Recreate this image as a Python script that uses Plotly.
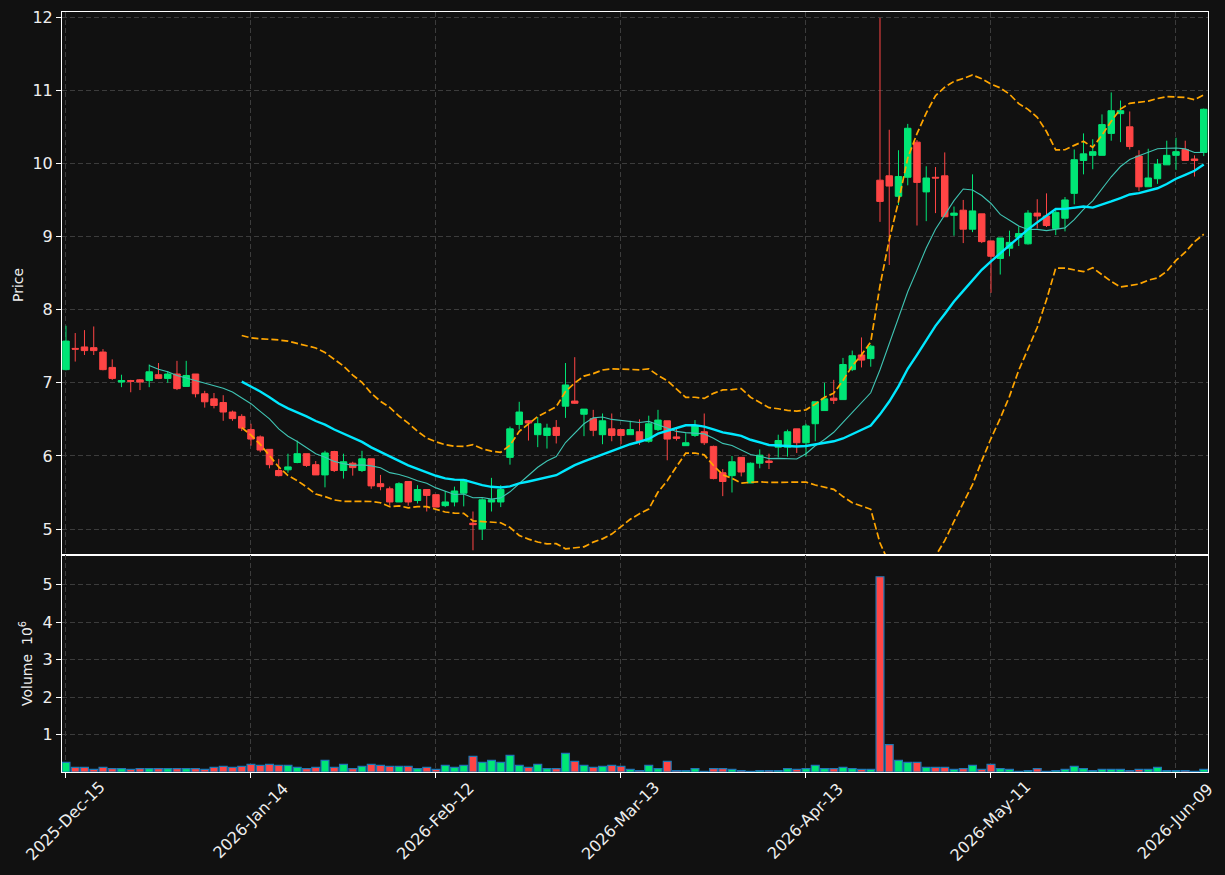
import pandas as pd
import plotly.graph_objects as go

# ---------------- data ----------------
opens = [7.18, 7.47, 7.49, 7.48, 7.42, 7.21, 7.01, 7.03, 7.04, 7.03,
         7.11, 7.06, 7.12, 6.95, 7.12, 6.85, 6.78, 6.73, 6.60, 6.54,
         6.36, 6.26, 6.09, 5.80, 5.81, 5.91, 6.03, 5.88, 5.74, 6.06,
         5.80, 5.90, 5.80, 5.96, 5.62, 5.55, 5.37, 5.65, 5.39, 5.54,
         5.47, 5.32, 5.37, 5.49, 5.08, 5.00, 5.37, 5.37, 5.98, 6.43,
         6.48, 6.29, 6.28, 6.39, 6.68, 6.75, 6.57, 6.51, 6.29, 6.37,
         6.36, 6.29, 6.33, 6.20, 6.36, 6.48, 6.26, 6.14, 6.28, 6.33,
         6.13, 5.77, 5.73, 5.98, 5.63, 5.90, 5.93, 6.12, 6.12, 6.37,
         6.18, 6.44, 6.62, 6.79, 6.77, 7.18, 7.38, 7.33, 9.77, 9.83,
         9.55, 9.81, 10.29, 9.61, 9.81, 9.83, 9.29, 9.36, 9.10, 9.31,
         8.94, 8.70, 8.84, 8.99, 8.90, 9.32, 9.28, 9.11, 9.25, 9.59,
         10.04, 10.11, 10.11, 10.41, 10.68, 10.50, 10.10, 9.68, 9.79, 9.98,
         10.11, 10.19, 10.06, 10.15]
highs = [7.78, 7.68, 7.72, 7.77, 7.46, 7.32, 7.11, 7.04, 7.05, 7.25,
         7.27, 7.16, 7.30, 7.30, 7.12, 6.89, 6.86, 6.83, 6.62, 6.57,
         6.44, 6.28, 6.09, 5.96, 6.03, 6.21, 6.03, 5.93, 6.07, 6.07,
         6.03, 5.92, 6.07, 5.96, 5.74, 5.58, 5.64, 5.65, 5.60, 5.54,
         5.47, 5.52, 5.58, 5.67, 5.24, 5.42, 5.70, 5.60, 6.40, 6.74,
         6.49, 6.53, 6.44, 6.49, 7.27, 7.35, 6.64, 6.63, 6.58, 6.58,
         6.36, 6.48, 6.50, 6.55, 6.63, 6.48, 6.39, 6.31, 6.49, 6.58,
         6.14, 5.82, 6.00, 5.98, 5.91, 6.09, 6.03, 6.29, 6.36, 6.37,
         6.44, 6.74, 7.00, 7.04, 7.34, 7.44, 7.62, 7.52, 11.99, 10.46,
         10.18, 10.54, 10.32, 9.96, 9.95, 10.15, 9.41, 9.50, 9.85, 9.31,
         8.94, 8.98, 9.08, 9.14, 9.36, 9.51, 9.59, 9.36, 9.54, 10.19,
         10.41, 10.33, 10.67, 10.97, 10.86, 10.71, 10.18, 10.20, 10.06, 10.31,
         10.35, 10.31, 10.11, 10.75]
lows = [7.17, 7.29, 7.38, 7.38, 7.17, 7.04, 6.94, 6.87, 6.90, 6.94,
        7.05, 7.00, 6.90, 6.95, 6.80, 6.66, 6.65, 6.48, 6.48, 6.34,
        6.14, 6.05, 5.83, 5.72, 5.77, 5.90, 5.85, 5.74, 5.57, 5.78,
        5.69, 5.73, 5.78, 5.55, 5.53, 5.32, 5.37, 5.32, 5.35, 5.24,
        5.30, 5.30, 5.31, 5.31, 4.71, 4.85, 5.24, 5.30, 5.88, 6.36,
        6.21, 6.12, 6.10, 6.17, 6.52, 6.71, 6.27, 6.27, 6.16, 6.20,
        6.16, 6.29, 6.15, 6.18, 6.34, 5.94, 6.21, 6.14, 6.26, 6.15,
        5.68, 5.45, 5.50, 5.72, 5.63, 5.83, 5.82, 5.98, 5.99, 6.04,
        5.99, 6.20, 6.62, 6.71, 6.77, 7.16, 7.21, 7.22, 9.20, 8.61,
        9.43, 9.70, 9.15, 9.21, 9.32, 9.27, 9.01, 8.91, 9.06, 8.91,
        8.23, 8.48, 8.73, 8.87, 8.89, 9.11, 9.13, 9.02, 9.07, 9.44,
        9.85, 9.92, 10.11, 10.31, 10.29, 10.19, 9.62, 9.68, 9.72, 9.98,
        9.91, 10.04, 9.82, 10.10]
closes = [7.57, 7.46, 7.44, 7.44, 7.18, 7.06, 7.03, 7.02, 7.01, 7.15,
          7.06, 7.12, 6.92, 7.10, 6.85, 6.74, 6.69, 6.60, 6.51, 6.38,
          6.23, 6.08, 5.88, 5.73, 5.85, 6.03, 5.87, 5.74, 6.04, 5.80,
          5.92, 5.84, 5.96, 5.59, 5.58, 5.37, 5.62, 5.37, 5.54, 5.46,
          5.30, 5.37, 5.52, 5.67, 5.06, 5.40, 5.40, 5.54, 6.37, 6.60,
          6.45, 6.44, 6.38, 6.28, 6.97, 6.72, 6.64, 6.35, 6.48, 6.28,
          6.28, 6.36, 6.20, 6.44, 6.49, 6.23, 6.24, 6.18, 6.41, 6.18,
          5.69, 5.65, 5.92, 5.78, 5.90, 6.01, 5.91, 6.21, 6.33, 6.18,
          6.41, 6.74, 6.78, 6.76, 7.25, 7.37, 7.31, 7.50, 9.48, 9.69,
          9.82, 10.48, 9.74, 9.80, 9.80, 9.27, 9.32, 9.10, 9.35, 8.93,
          8.73, 8.98, 8.92, 9.04, 9.32, 9.28, 9.15, 9.33, 9.50, 10.05,
          10.13, 10.16, 10.53, 10.72, 10.72, 10.23, 9.68, 9.80, 9.99, 10.11,
          10.16, 10.04, 10.04, 10.74]
volumes = [257000, 124000, 124000, 71000, 124000, 88000, 88000, 71000, 88000, 88000,
           88000, 88000, 88000, 88000, 88000, 71000, 124000, 150000, 124000, 150000,
           203000, 177000, 203000, 177000, 177000, 124000, 88000, 124000, 310000, 124000,
           203000, 88000, 150000, 203000, 177000, 150000, 150000, 150000, 88000, 124000,
           71000, 177000, 124000, 177000, 415000, 257000, 310000, 257000, 442000, 177000,
           124000, 203000, 88000, 88000, 495000, 283000, 177000, 124000, 150000, 177000,
           150000, 71000, 35000, 177000, 88000, 283000, 35000, 35000, 88000, 18000,
           88000, 88000, 71000, 35000, 18000, 35000, 35000, 35000, 88000, 71000,
           88000, 177000, 88000, 88000, 124000, 88000, 71000, 71000, 5210000, 733000,
           310000, 257000, 257000, 124000, 124000, 124000, 71000, 88000, 177000, 71000,
           203000, 88000, 71000, 18000, 35000, 88000, 18000, 35000, 71000, 150000,
           88000, 35000, 71000, 71000, 71000, 35000, 71000, 71000, 124000, 35000,
           35000, 35000, 18000, 71000]

tick_pos = [0, 20, 40, 60, 80, 100, 120]
tick_labels = ['2025-Dec-15', '2026-Jan-14', '2026-Feb-12', '2026-Mar-13',
               '2026-Apr-13', '2026-May-11', '2026-Jun-09']

# ---------------- styling ----------------
BG = '#111111'
UP = '#00e676'
DOWN = '#ff4545'
GRID = '#3c3c3c'
TXT = '#eeeeee'
FONT = 'DejaVu Sans'
TICK_SIZE = 16

idx = list(range(len(closes)))
s = pd.Series(closes)
ma10 = s.rolling(10).mean()
ma20 = s.rolling(20).mean()
sd20 = s.rolling(20).std(ddof=0)
bb_up = ma20 + 2 * sd20
bb_lo = ma20 - 2 * sd20

vol_m = [v / 1e6 for v in volumes]
vol_colors = [UP if c >= o else DOWN for o, c in zip(opens, closes)]

fig = go.Figure()

fig.add_trace(go.Candlestick(
    x=idx, open=opens, high=highs, low=lows, close=closes,
    increasing=dict(line=dict(color=UP, width=1), fillcolor=UP),
    decreasing=dict(line=dict(color=DOWN, width=1), fillcolor=DOWN),
    whiskerwidth=0, xaxis='x', yaxis='y', showlegend=False, hoverinfo='skip'))

fig.add_trace(go.Scatter(x=idx, y=ma10, mode='lines', line=dict(color='#3fc4b3', width=1.1),
                         xaxis='x', yaxis='y', showlegend=False, hoverinfo='skip'))
fig.add_trace(go.Scatter(x=idx, y=ma20, mode='lines', line=dict(color='#00e8ff', width=2.4),
                         xaxis='x', yaxis='y', showlegend=False, hoverinfo='skip'))
for band in (bb_up, bb_lo):
    fig.add_trace(go.Scatter(x=idx, y=band, mode='lines',
                             line=dict(color='#ffa500', width=1.7, dash='7px,3px'),
                             xaxis='x', yaxis='y', showlegend=False, hoverinfo='skip'))

fig.add_trace(go.Bar(x=idx, y=vol_m, width=0.85,
                     marker=dict(color=vol_colors, line=dict(color='#1f77b4', width=1.2)),
                     xaxis='x2', yaxis='y2', showlegend=False, hoverinfo='skip'))

split = (772 - 555) / 760.0
xr = [-0.43, 123.46]
common_x = dict(range=xr, tickmode='array', tickvals=tick_pos, showgrid=True,
                gridcolor=GRID, griddash='5px,3px', gridwidth=1, zeroline=False,
                showline=True, linecolor='white', linewidth=1, mirror=True,
                automargin=False, showticklabels=False)
common_y = dict(ticks='outside', ticklen=5, tickcolor='white', showgrid=True,
                gridcolor=GRID, griddash='5px,3px', zeroline=False, showline=True,
                linecolor='white', linewidth=1, mirror=True, automargin=False,
                tickfont=dict(family=FONT, size=TICK_SIZE, color=TXT))

fig.update_layout(
    width=1225, height=875,
    paper_bgcolor=BG, plot_bgcolor=BG,
    margin=dict(l=62, r=17, t=12, b=103, autoexpand=False),
    font=dict(family=FONT, color=TXT, size=14),
    boxgap=0.3, boxgroupgap=0.0,
    xaxis=dict(**common_x, domain=[0, 1], anchor='y', ticks='',
               rangeslider=dict(visible=False)),
    xaxis2=dict(**common_x, domain=[0, 1], anchor='y2', matches='x',
                ticks='outside', ticklen=5, tickcolor='white'),
    yaxis=dict(**common_y, domain=[split, 1], anchor='x', range=[4.645, 12.07],
               tickvals=[5, 6, 7, 8, 9, 10, 11, 12]),
    yaxis2=dict(**common_y, domain=[0, split], anchor='x2', range=[0, 5.79],
                tickvals=[1, 2, 3, 4, 5]),
)

# pixel -> paper conversion for placed texts
W_plot = 1225 - 62 - 17
H_plot = 875 - 12 - 103


def px2paper(px, py):
    return (px - 62) / W_plot, 1 - (py - 12) / H_plot


# rotated date labels centred under their ticks
_, lab_y = px2paper(0, 821)
for pos, lab in zip(tick_pos, tick_labels):
    fig.add_annotation(text=lab, x=pos, y=lab_y, xref='x2', yref='paper',
                       showarrow=False, textangle=-45, xanchor='center', yanchor='middle',
                       font=dict(family=FONT, size=TICK_SIZE, color=TXT))

for txt, px, py in [('Price', 18, 285), ('Volume  10<sup>6</sup>', 26, 664)]:
    ax_, ay_ = px2paper(px, py)
    fig.add_annotation(text=txt, x=ax_, y=ay_, xref='paper', yref='paper',
                       showarrow=False, textangle=-90, xanchor='center', yanchor='middle',
                       font=dict(family=FONT, size=14, color=TXT))

fig.write_html('out.html')
